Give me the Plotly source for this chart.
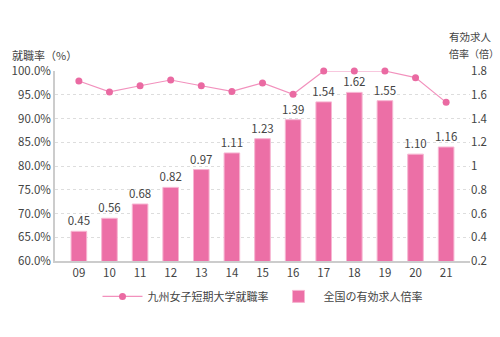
import plotly.graph_objects as go

years = ["09", "10", "11", "12", "13", "14", "15", "16", "17", "18", "19", "20", "21"]
employment_rate = [97.9, 95.6, 96.9, 98.1, 96.9, 95.7, 97.5, 95.1, 100.0, 100.0, 100.0, 98.6, 93.4]
job_ratio = [0.45, 0.56, 0.68, 0.82, 0.97, 1.11, 1.23, 1.39, 1.54, 1.62, 1.55, 1.10, 1.16]

FONT = "Noto Sans CJK JP"
TXT = "#444444"

fig = go.Figure()
fig.add_trace(go.Bar(
    x=years, y=job_ratio, name="全国の有効求人倍率",
    marker=dict(color="#EC6FA6", line=dict(color="#F7B6D2", width=1)),
    text=[f"{v:.2f}" for v in job_ratio], textposition="outside",
    constraintext="none",
    textfont=dict(size=11.5, color=TXT, family=FONT), cliponaxis=False,
    yaxis="y",
))
fig.add_trace(go.Scatter(
    x=years, y=employment_rate, name="九州女子短期大学就職率",
    mode="lines+markers",
    line=dict(color="#F291BD", width=1.2),
    marker=dict(color="#EA6AA2", size=7),
    yaxis="y2", cliponaxis=False,
))

fig.update_layout(
    width=500, height=337,
    margin=dict(l=51, r=30, t=71, b=76),
    paper_bgcolor="white", plot_bgcolor="white",
    font=dict(family=FONT, size=11, color=TXT),
    bargap=0.49,
    showlegend=True,
    legend=dict(orientation="h", x=0.5, xanchor="center", y=-0.11, yanchor="top",
                font=dict(size=11, color=TXT), itemwidth=40,
                traceorder="reversed"),
    xaxis=dict(type="category", range=[-0.78, 12.78], showgrid=False,
               showline=True, linecolor="#cccccc", linewidth=1.5, ticks="",
               tickfont=dict(size=11.5, color=TXT)),
    yaxis=dict(side="right", range=[0.2, 1.8], dtick=0.2, showgrid=True,
               gridcolor="#dddddd", griddash="dot", gridwidth=1,
               zeroline=False, showline=False, ticks="",
               tickfont=dict(size=11.5, color=TXT)),
    yaxis2=dict(side="left", overlaying="y", range=[60, 100], dtick=5,
                tickformat=".1f", ticksuffix="%", showgrid=False,
                zeroline=False, showline=True, linecolor="#cccccc", linewidth=1.5,
                ticks="", tickfont=dict(size=11.5, color=TXT)),
    annotations=[
        dict(text="就職率（%）", xref="paper", yref="paper", x=-0.108, y=1.085,
             xanchor="left", yanchor="middle", showarrow=False,
             font=dict(size=11, color=TXT)),
        dict(text="有効求人", xref="paper", yref="paper", x=0.945, y=1.18,
             xanchor="left", yanchor="middle", showarrow=False,
             font=dict(size=10.5, color=TXT)),
        dict(text="倍率（倍）", xref="paper", yref="paper", x=0.945, y=1.09,
             xanchor="left", yanchor="middle", showarrow=False,
             font=dict(size=10, color=TXT)),
    ],
)

fig.write_html("out.html")
